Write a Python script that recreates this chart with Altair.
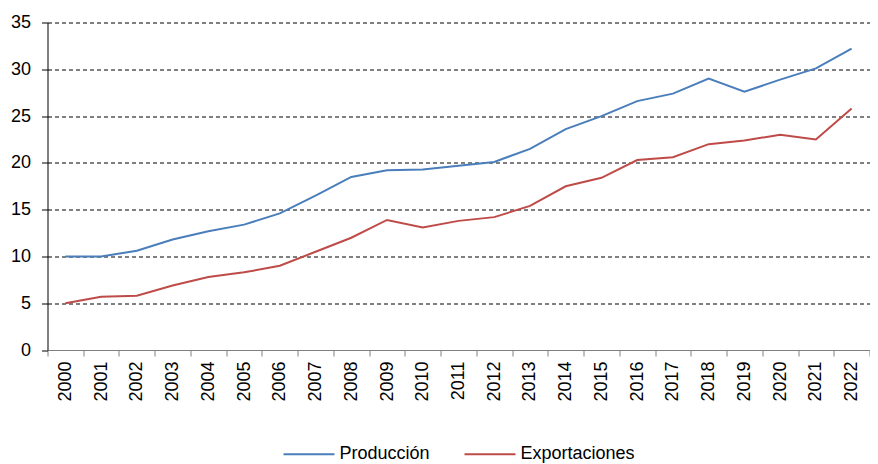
import altair as alt
import pandas as pd

years = ["2000", "2001", "2002", "2003", "2004", "2005", "2006", "2007", "2008",
         "2009", "2010", "2011", "2012", "2013", "2014", "2015", "2016", "2017",
         "2018", "2019", "2020", "2021", "2022"]
produccion = [10.0, 10.0, 10.6, 11.8, 12.7, 13.4, 14.6, 16.5, 18.5, 19.2, 19.3, 19.7,
              20.1, 21.5, 23.6, 25.0, 26.6, 27.4, 29.0, 27.6, 28.9, 30.1, 32.2]
exportaciones = [5.0, 5.7, 5.8, 6.9, 7.8, 8.3, 9.0, 10.5, 12.0, 13.9, 13.1, 13.8,
                 14.2, 15.4, 17.5, 18.4, 20.3, 20.6, 22.0, 22.4, 23.0, 22.5, 25.8]
series_names = ["Producción", "Exportaciones"]
series_colors = ["#4A7EBB", "#BE4B48"]
y_ticks = [0, 5, 10, 15, 20, 25, 30, 35]

rows = []
for name, vals in zip(series_names, [produccion, exportaciones]):
    for yr, v in zip(years, vals):
        rows.append({"year": yr, "value": v, "serie": name})
df = pd.DataFrame(rows)

FONT = "Liberation Sans"

chart = alt.Chart(df).mark_line(strokeWidth=2).encode(
    x=alt.X(
        "year:O", sort=years, bandPosition=0.5,
        scale=alt.Scale(type="band", paddingInner=0, paddingOuter=0),
        axis=alt.Axis(title=None, labelAngle=270, labelFontSize=18, labelFont=FONT,
                      labelColor="black", labelPadding=5, tickBand="extent", tickSize=6,
                      tickColor="#808080", domainColor="#808080", grid=False),
    ),
    y=alt.Y(
        "value:Q", scale=alt.Scale(domain=[0, 35], nice=False),
        axis=alt.Axis(title=None, values=y_ticks, labelFontSize=18, labelFont=FONT,
                      labelColor="black", labelPadding=11, tickSize=6, tickColor="black",
                      domainColor="black", grid=True, gridColor="black", gridDash=[4, 3],
                      gridOpacity=alt.condition("datum.value == 0", alt.value(0), alt.value(1))),
    ),
    color=alt.Color(
        "serie:N", sort=series_names,
        scale=alt.Scale(domain=series_names, range=series_colors),
        legend=alt.Legend(title=None, orient="none", legendX=235, legendY=405,
                          direction="horizontal", columns=2, symbolType="stroke",
                          symbolSize=2600, symbolStrokeWidth=2, labelFontSize=18,
                          labelFont=FONT, labelColor="black", labelOffset=4,
                          columnPadding=30, padding=0),
    ),
).properties(
    width=822, height=327.5,
    padding={"left": 39.5, "top": 14.5, "right": 0, "bottom": 114},
    autosize=alt.AutoSizeParams(type="none"),
).configure_view(stroke=None)

chart.save("out.html", embed_options={"renderer": "svg", "actions": False})
